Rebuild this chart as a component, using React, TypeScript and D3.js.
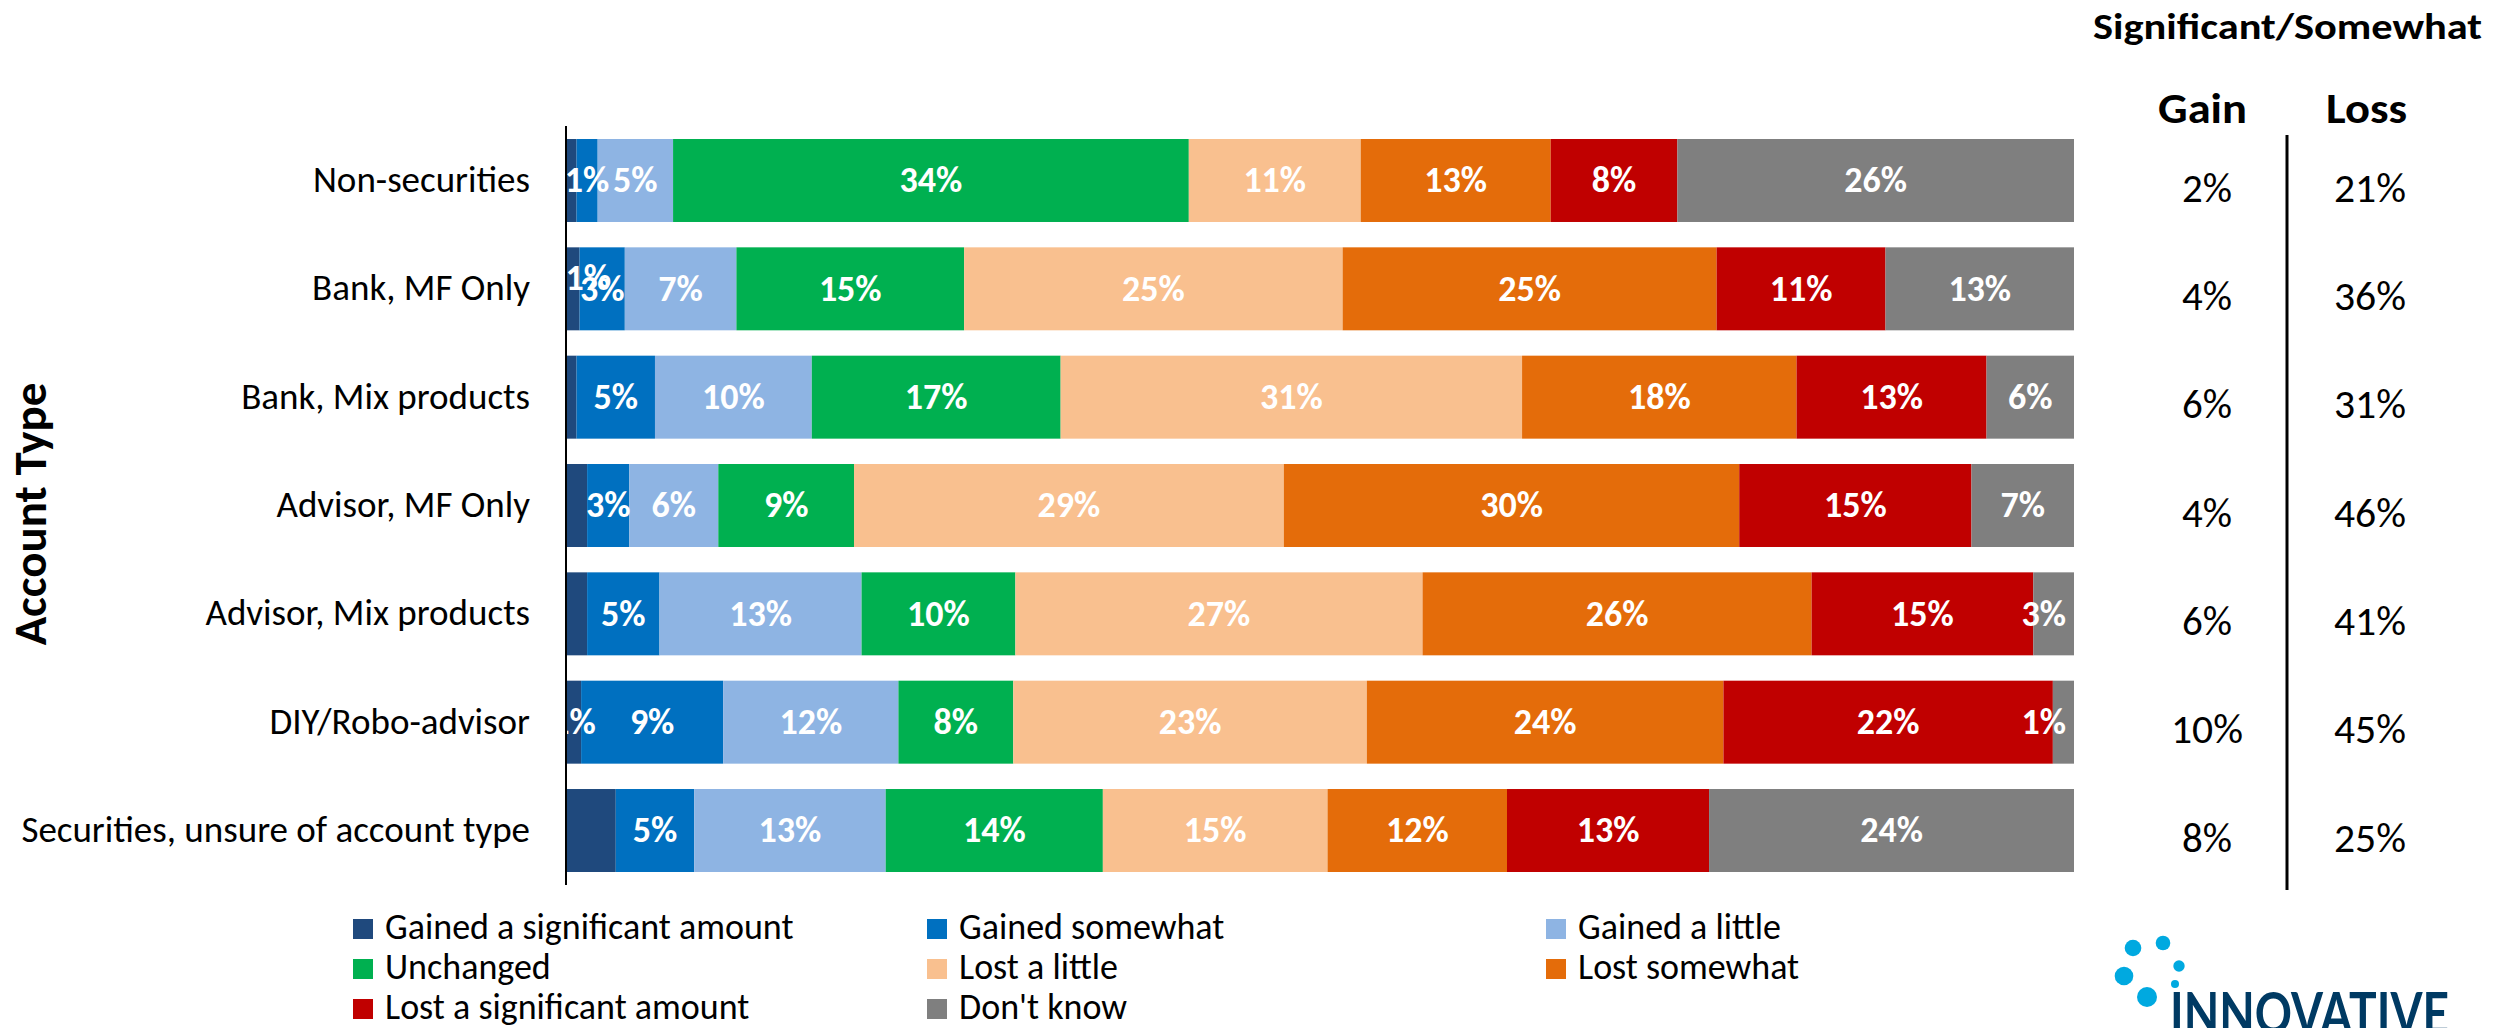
import React from "react";
import * as d3 from "d3";

const categories = [
  "Non-securities",
  "Bank, MF Only",
  "Bank, Mix products",
  "Advisor, MF Only",
  "Advisor, Mix products",
  "DIY/Robo-advisor",
  "Securities, unsure of account type",
];

const seriesNames = [
  "Gained a significant amount",
  "Gained somewhat",
  "Gained a little",
  "Unchanged",
  "Lost a little",
  "Lost somewhat",
  "Lost a significant amount",
  "Don't know",
];

const gainedSignificant = [0.7, 0.9, 0.7, 1.4, 1.4, 1.0, 3.3];
const gainedSomewhat = [1.4, 3.0, 5.2, 2.8, 4.8, 9.4, 5.2];
const gainedLittle = [5.0, 7.4, 10.4, 5.9, 13.4, 11.6, 12.7];
const unchanged = [34.2, 15.1, 16.5, 9.0, 10.2, 7.6, 14.4];
const lostLittle = [11.4, 25.1, 30.6, 28.5, 27.0, 23.4, 14.9];
const lostSomewhat = [12.6, 24.8, 18.2, 30.2, 25.8, 23.6, 11.9];
const lostSignificant = [8.4, 11.2, 12.6, 15.4, 14.7, 21.8, 13.4];
const dontKnow = [26.3, 12.5, 5.8, 6.8, 2.7, 1.4, 24.2];

const gainTotals = [2, 4, 6, 4, 6, 10, 8];
const lossTotals = [21, 36, 31, 46, 41, 45, 25];

// rows where the "Gained a significant amount" value label is shown
const sigGainLabelRows = ["Bank, MF Only", "DIY/Robo-advisor"];

const colors = [
  "#1F497D",
  "#0070C0",
  "#8EB4E3",
  "#00B050",
  "#F9C08F",
  "#E46C0A",
  "#C00000",
  "#7F7F7F",
];

const seriesValues = [
  gainedSignificant,
  gainedSomewhat,
  gainedLittle,
  unchanged,
  lostLittle,
  lostSomewhat,
  lostSignificant,
  dontKnow,
];

const W = 2494;
const H = 1028;
const plotLeft = 566;
const plotRight = 2074;
const plotTop = 126;
const plotBottom = 885;
const FONT = "Carlito, Lato, 'Open Sans', sans-serif";

export default function App() {
  const rows = categories.map((c, i) => {
    const r: any = { category: c };
    seriesNames.forEach((s, j) => (r[s] = seriesValues[j][i]));
    return r;
  });

  const stack = d3.stack<any>().keys(seriesNames).offset(d3.stackOffsetExpand);
  const layers = stack(rows);

  const x = d3.scaleLinear().domain([0, 1]).range([plotLeft, plotRight]);
  const y = d3
    .scaleBand<string>()
    .domain(categories)
    .range([plotTop, plotBottom])
    .paddingInner(0.234)
    .paddingOuter(0.12);

  const labelSize = 36;
  const estWidth = (t: string) => t.length * 0.62 * labelSize;

  const legendCols = [353, 927, 1546];
  const legendRows = [919, 959, 999];

  const gainX = 2207;
  const lossX = 2370;
  const valWidth = (t: string) => (t.length - 1) * 22 + 28;

  return (
    <div style={{ position: "absolute", left: 0, top: 0 }}>
      <svg width={W} height={H} style={{ display: "block", background: "#fff" }}>
        {/* bars */}
        {layers.map((layer, j) => (
          <g key={layer.key} fill={colors[j]}>
            {layer.map((d, i) => (
              <rect
                key={i}
                x={x(d[0])}
                y={y(categories[i])}
                width={Math.max(0, x(d[1]) - x(d[0]))}
                height={y.bandwidth()}
              />
            ))}
          </g>
        ))}
        {/* value labels */}
        {layers.map((layer, j) => (
          <g key={"l" + layer.key}>
            {layer.map((d, i) => {
              const cat = categories[i];
              if (j === 0 && !sigGainLabelRows.includes(cat)) return null;
              const t = Math.round(seriesValues[j][i]) + "%";
              let cx = (x(d[0]) + x(d[1])) / 2;
              cx = Math.min(cx, plotRight - 8 - estWidth(t) / 2);
              let cy = (y(cat) as number) + y.bandwidth() / 2;
              if (j === 0 && cat === "Bank, MF Only") {
                cx += 15;
                cy -= 11;
              }
              return (
                <text
                  key={i}
                  x={cx}
                  y={cy + labelSize * 0.33}
                  textAnchor="middle"
                  fill="#fff"
                  fontFamily={FONT}
                  fontWeight={700}
                  fontSize={labelSize}
                >
                  {t}
                </text>
              );
            })}
          </g>
        ))}
        {/* axis line */}
        <line x1={plotLeft} x2={plotLeft} y1={plotTop} y2={plotBottom} stroke="#000" strokeWidth={2} />
        {/* category labels */}
        {categories.map((c) => (
          <text
            key={c}
            x={530}
            y={(y(c) as number) + y.bandwidth() / 2 + 11.5}
            textAnchor="end"
            fontFamily={FONT}
            fontSize={37}
            fill="#000"
          >
            {c}
          </text>
        ))}
        {/* axis title */}
        <text
          transform={`translate(46,514) rotate(-90)`}
          textAnchor="middle"
          fontFamily={FONT}
          fontWeight={700}
          fontSize={47}
          fill="#000"
        >
          Account Type
        </text>
        {/* right side table */}
        <text
          x={2093}
          y={39}
          fontFamily={FONT}
          fontWeight={700}
          fontSize={37}
          fill="#000"
          textLength={389}
          lengthAdjust="spacingAndGlyphs"
        >
          Significant/Somewhat
        </text>
        <text
          x={2158}
          y={123}
          fontFamily={FONT}
          fontWeight={700}
          fontSize={42}
          fill="#000"
          textLength={89}
          lengthAdjust="spacingAndGlyphs"
        >
          Gain
        </text>
        <text
          x={2326}
          y={123}
          fontFamily={FONT}
          fontWeight={700}
          fontSize={42}
          fill="#000"
          textLength={81}
          lengthAdjust="spacingAndGlyphs"
        >
          Loss
        </text>
        <line x1={2287} x2={2287} y1={135} y2={890} stroke="#000" strokeWidth={3} />
        {categories.map((c, i) => {
          const cy = (y(c) as number) + y.bandwidth() / 2 + 21.3;
          const g = gainTotals[i] + "%";
          const l = lossTotals[i] + "%";
          return (
            <g key={"t" + c}>
              <text
                x={gainX - valWidth(g) / 2}
                y={cy}
                fontFamily={FONT}
                fontSize={41}
                fill="#000"
                textLength={valWidth(g)}
                lengthAdjust="spacingAndGlyphs"
              >
                {g}
              </text>
              <text
                x={lossX - valWidth(l) / 2}
                y={cy}
                fontFamily={FONT}
                fontSize={41}
                fill="#000"
                textLength={valWidth(l)}
                lengthAdjust="spacingAndGlyphs"
              >
                {l}
              </text>
            </g>
          );
        })}
        {/* legend */}
        {seriesNames.map((s, j) => {
          const col = j % 3;
          const row = Math.floor(j / 3);
          const lx = legendCols[col];
          const ly = legendRows[row];
          return (
            <g key={"lg" + s}>
              <rect x={lx} y={ly} width={20} height={20} fill={colors[j]} />
              <text x={lx + 32} y={ly + 20} fontFamily={FONT} fontSize={36} fill="#000">
                {s}
              </text>
            </g>
          );
        })}
        {/* logo */}
        <g fill="#00A9E0">
          <circle cx={2133} cy={948} r={8.3} />
          <circle cx={2163} cy={943} r={7.3} />
          <circle cx={2179} cy={966} r={5.7} />
          <circle cx={2124} cy={976} r={9.3} />
          <circle cx={2147} cy={997} r={10} />
          <circle cx={2175} cy={984} r={4} />
        </g>
        <text
          x={2170}
          y={1034}
          fontFamily="Lato, sans-serif"
          fontWeight={700}
          fontSize={58}
          fill="#003A63"
          textLength={279}
          lengthAdjust="spacingAndGlyphs"
        >
          INNOVATIVE
        </text>
      </svg>
    </div>
  );
}
